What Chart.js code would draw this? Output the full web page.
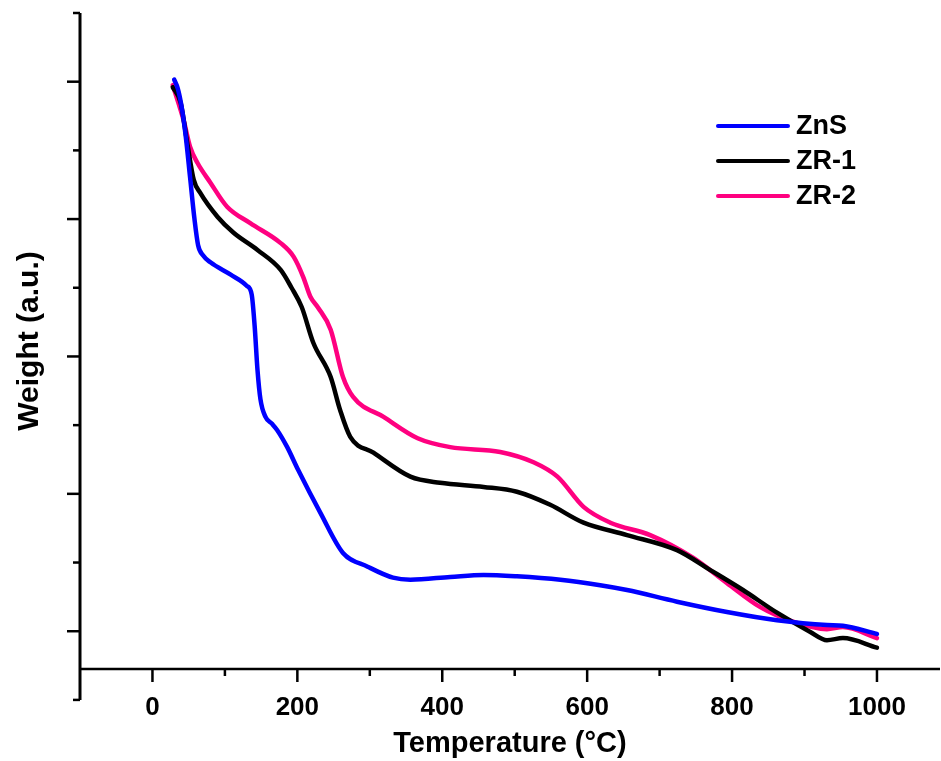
<!DOCTYPE html>
<html>
<head>
<meta charset="utf-8">
<title>TGA curves</title>
<script src="https://cdn.jsdelivr.net/npm/chart.js@4"></script>
<style>
  html, body { margin: 0; padding: 0; background: #fff; }
  #wrap { width: 941px; height: 761px; }
</style>
</head>
<body>
<div id="wrap"><canvas id="tga"></canvas></div>
<script>
// series names and colours
const seriesNames = ['ZnS', 'ZR-1', 'ZR-2'];
const seriesColors = ['#0000ff', '#000000', '#ff0080'];

// ZnS: temperature (C) and weight (a.u.)
const znsTemp = [30, 35, 40, 46, 52, 58, 63, 70, 80, 108, 130, 137, 141, 145, 149, 156, 165, 172, 186, 201, 232, 263, 297, 332, 356, 411, 457, 503, 563, 618, 655, 724, 793, 862, 931, 953, 1000];
const znsWeight = [9.03, 8.90, 8.65, 8.20, 7.60, 7.00, 6.62, 6.47, 6.37, 6.19, 6.03, 5.90, 5.45, 4.80, 4.38, 4.12, 4.02, 3.93, 3.68, 3.35, 2.72, 2.14, 1.94, 1.78, 1.75, 1.79, 1.82, 1.80, 1.75, 1.67, 1.60, 1.43, 1.28, 1.16, 1.09, 1.08, 0.96];

// ZR-1
const zr1Temp = [28, 39, 48, 57, 66, 90, 112, 145, 177, 192, 206, 222, 246, 259, 273, 305, 356, 397, 457, 503, 549, 595, 655, 724, 770, 815, 862, 908, 931, 953, 1000];
const zr1Weight = [8.92, 8.69, 8.11, 7.57, 7.38, 7.03, 6.80, 6.55, 6.26, 6.00, 5.72, 5.20, 4.70, 4.22, 3.83, 3.60, 3.25, 3.16, 3.10, 3.03, 2.84, 2.58, 2.40, 2.18, 1.89, 1.60, 1.27, 0.99, 0.87, 0.90, 0.76];

// ZR-2
const zr2Temp = [28, 43, 52, 62, 80, 103, 135, 177, 195, 208, 218, 228, 246, 263, 277, 319, 366, 411, 480, 526, 559, 595, 632, 687, 746, 793, 839, 884, 931, 953, 1000];
const zr2Weight = [8.95, 8.44, 8.05, 7.82, 7.53, 7.18, 6.94, 6.65, 6.45, 6.16, 5.87, 5.72, 5.39, 4.70, 4.41, 4.12, 3.81, 3.68, 3.61, 3.46, 3.25, 2.81, 2.58, 2.40, 2.07, 1.70, 1.35, 1.14, 1.03, 1.06, 0.90];

// axis ticks
const xTickValues = [0, 200, 400, 600, 800, 1000];
const xMinorValues = [100, 300, 500, 700, 900];
const yTickValues = [0, 1, 2, 3, 4, 5, 6, 7, 8, 9, 10]; // odd ones are the long ticks

const FONT = "'Liberation Sans', Arial, sans-serif";

function toPoints(xs, ys) {
  return xs.map((x, i) => ({ x: x, y: ys[i] }));
}

// draws the spines and tick marks (origin style: y spine runs below the x axis)
const axesPlugin = {
  id: 'axesPlugin',
  afterDraw(chart) {
    const ctx = chart.ctx;
    const xs = chart.scales.x, ys = chart.scales.y;
    const area = chart.chartArea;
    ctx.save();
    ctx.strokeStyle = '#000';
    ctx.lineCap = 'butt';

    // x axis line
    ctx.lineWidth = 2.5;
    ctx.beginPath();
    ctx.moveTo(area.left, area.bottom);
    ctx.lineTo(area.right, area.bottom);
    ctx.stroke();

    // y axis line
    ctx.lineWidth = 3;
    ctx.beginPath();
    ctx.moveTo(area.left, ys.getPixelForValue(10));
    ctx.lineTo(area.left, ys.getPixelForValue(0));
    ctx.stroke();

    // x ticks
    ctx.lineWidth = 2.5;
    xTickValues.forEach(v => {
      const px = xs.getPixelForValue(v);
      ctx.beginPath(); ctx.moveTo(px, area.bottom); ctx.lineTo(px, area.bottom + 13); ctx.stroke();
    });
    xMinorValues.forEach(v => {
      const px = xs.getPixelForValue(v);
      ctx.beginPath(); ctx.moveTo(px, area.bottom); ctx.lineTo(px, area.bottom + 7); ctx.stroke();
    });

    // y ticks
    yTickValues.forEach(v => {
      const py = ys.getPixelForValue(v);
      const len = v % 2 === 1 ? 13 : 7;
      ctx.beginPath(); ctx.moveTo(area.left, py); ctx.lineTo(area.left - len, py); ctx.stroke();
    });
    ctx.restore();
  }
};

// legend in the upper right
const legendPlugin = {
  id: 'legendPlugin',
  afterDraw(chart) {
    const ctx = chart.ctx;
    ctx.save();
    ctx.font = 'bold 27px ' + FONT;
    ctx.textBaseline = 'middle';
    ctx.textAlign = 'left';
    chart.data.datasets.forEach((ds, i) => {
      const y = 126 + i * 35;
      ctx.strokeStyle = ds.borderColor;
      ctx.lineWidth = 4;
      ctx.lineCap = 'round';
      ctx.beginPath(); ctx.moveTo(718, y); ctx.lineTo(788, y); ctx.stroke();
      ctx.fillStyle = '#000';
      ctx.fillText(ds.label, 796, y + 1);
    });
    ctx.restore();
  }
};

const seriesData = [
  toPoints(znsTemp, znsWeight),
  toPoints(zr1Temp, zr1Weight),
  toPoints(zr2Temp, zr2Weight)
];

new Chart(document.getElementById('tga'), {
  type: 'line',
  data: {
    datasets: seriesNames.map((name, i) => ({
      label: name,
      data: seriesData[i],
      borderColor: seriesColors[i],
      backgroundColor: seriesColors[i],
      borderWidth: 4.5,
      pointRadius: 0,
      cubicInterpolationMode: 'monotone',
      borderCapStyle: 'round',
      borderJoinStyle: 'round',
      clip: false
    }))
  },
  plugins: [axesPlugin, legendPlugin],
  options: {
    responsive: true,
    maintainAspectRatio: false,
    animation: false,
    layout: { padding: { top: 13, right: 1, left: 0, bottom: 0 } },
    plugins: {
      legend: { display: false },
      tooltip: { enabled: false }
    },
    scales: {
      x: {
        type: 'linear',
        min: -100,
        max: 1087,
        afterBuildTicks: s => { s.ticks = xTickValues.map(v => ({ value: v })); },
        afterFit: s => { s.height = 92; },
        grid: { display: false, drawTicks: false },
        border: { display: false },
        ticks: {
          color: '#000',
          padding: 23,
          maxRotation: 0,
          callback: v => String(v),
          font: { family: FONT, size: 26, weight: 'bold' }
        },
        title: {
          display: true,
          text: 'Temperature (°C)',
          color: '#000',
          padding: { top: 0, bottom: 0 },
          font: { family: FONT, size: 29, weight: 'bold' }
        }
      },
      y: {
        type: 'linear',
        min: 0.45,
        max: 10,
        afterFit: s => { s.width = 80; },
        grid: { display: false, drawTicks: false },
        border: { display: false },
        ticks: { display: false },
        title: {
          display: true,
          text: 'Weight (a.u.)',
          color: '#000',
          padding: { top: 12, bottom: 0 },
          font: { family: FONT, size: 30, weight: 'bold' }
        }
      }
    }
  }
});
</script>
</body>
</html>
